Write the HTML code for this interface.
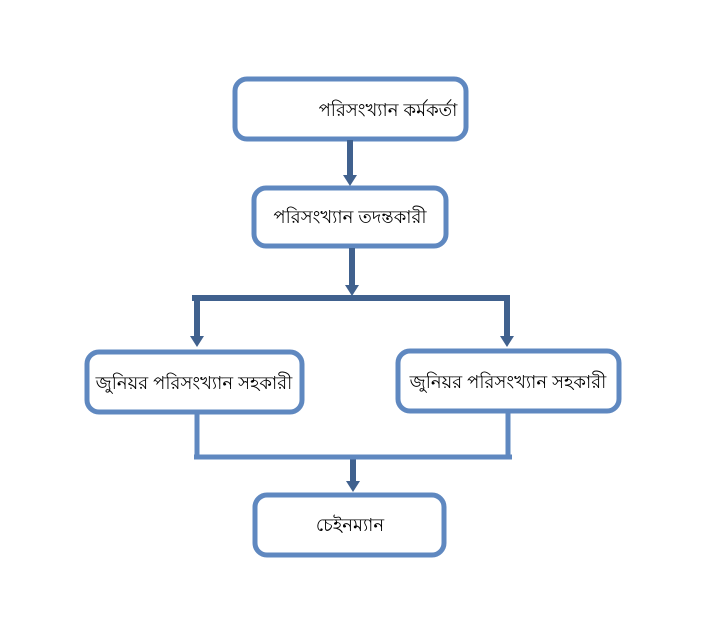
<!DOCTYPE html>
<html><head><meta charset="utf-8"><style>
body{margin:0;background:#fff;width:720px;height:625px;overflow:hidden}
svg text{font-family:"Liberation Sans","Noto Sans CJK SC",sans-serif;font-size:18px;fill:#000}
</style></head><body>
<svg width="720" height="625" viewBox="0 0 720 625">
<defs><marker id="a" markerWidth="14" markerHeight="12" refX="7" refY="2" orient="auto" markerUnits="userSpaceOnUse" viewBox="0 0 14 12"><path d="M0,0 L14,0 L7,10 z" fill="#40618e" transform="rotate(-90 7 6) translate(0 -4)"/></marker></defs>
<g fill="#fff" stroke="#5f88c0" stroke-width="5">
<rect x="235" y="79" width="231" height="60" rx="12"/>
<rect x="254" y="188" width="192" height="58" rx="12"/>
<rect x="87" y="352" width="215" height="60" rx="12"/>
<rect x="398" y="351" width="221" height="60" rx="12"/>
<rect x="255" y="495" width="189" height="60" rx="12"/>
</g>
<g fill="#40618e">
<rect x="347" y="140" width="6" height="36"/><path d="M343,175 H357 L350,186 z"/>
<rect x="349" y="248" width="6" height="38"/><path d="M345,285 H359 L352,296 z"/>
<rect x="192" y="295" width="318" height="6"/>
<rect x="194" y="298" width="6" height="40"/><path d="M190,336 H204 L197,347 z"/>
<rect x="504" y="298" width="6" height="40"/><path d="M500,336 H514 L507,347 z"/>
<rect x="350" y="458" width="6" height="25"/><path d="M346,481 H360 L353,492 z"/>
</g>
<g stroke="#5f88c0" stroke-width="5" fill="none">
<path d="M197 413 V456 M508 412 V456 M194 457 H512"/>
</g>
<text x="388" y="116" text-anchor="middle">পরিসংখ্যান কর্মকর্তা</text>
<text x="350" y="223" text-anchor="middle">পরিসংখ্যান তদন্তকারী</text>
<text x="194" y="389" text-anchor="middle">জুনিয়র পরিসংখ্যান সহকারী</text>
<text x="508" y="388" text-anchor="middle">জুনিয়র পরিসংখ্যান সহকারী</text>
<text x="350" y="531" text-anchor="middle">চেইনম্যান</text>
</svg>
</body></html>
